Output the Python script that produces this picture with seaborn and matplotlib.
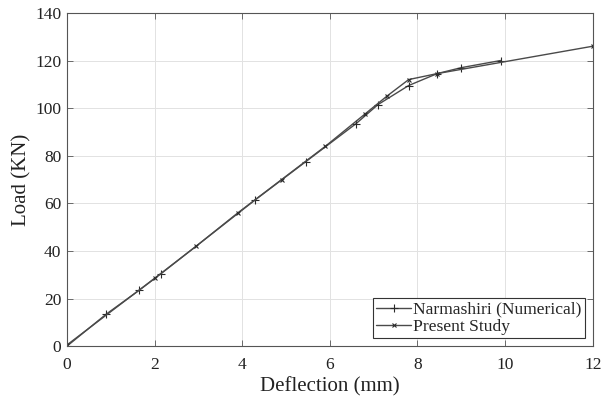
import matplotlib
matplotlib.use("Agg")
import matplotlib.pyplot as plt
import seaborn as sns
import pandas as pd

narm_x = [0.0, 0.9, 1.65, 2.15, 4.3, 5.45, 6.6, 7.1, 7.8, 8.45, 9.0, 9.9]
narm_y = [0.0, 13.5, 23.5, 30.5, 61.5, 77.5, 93.5, 101.5, 109.5, 114.5, 117.0, 120.0]
pres_x = [0.0, 2.0, 2.95, 3.9, 4.9, 5.9, 6.8, 7.3, 7.8, 8.45, 12.0]
pres_y = [0.5, 28.5, 42.0, 56.0, 70.0, 84.0, 97.5, 105.0, 112.0, 114.5, 126.0]
series_names = ["Narmashiri (Numerical)", "Present Study"]
x_ticks = [0, 2, 4, 6, 8, 10, 12]
y_ticks = [0, 20, 40, 60, 80, 100, 120, 140]

sns.set_theme(style="whitegrid")
plt.rcParams["font.family"] = ["Liberation Serif", "DejaVu Serif"]

fig = plt.figure(figsize=(6.03, 4.03), dpi=100)
ax = fig.add_axes([0.111, 0.141, 0.872, 0.827])

df1 = pd.DataFrame({"x": narm_x, "y": narm_y})
df2 = pd.DataFrame({"x": pres_x, "y": pres_y})
sns.lineplot(data=df1, x="x", y="y", ax=ax, color="#4a4a4a", lw=1.0, marker="+",
             markersize=5.5, markeredgecolor="#2a2a2a", markeredgewidth=0.8,
             label=series_names[0], sort=False)
sns.lineplot(data=df2, x="x", y="y", ax=ax, color="#4a4a4a", lw=1.0, marker="x",
             markersize=3.5, markeredgecolor="#2a2a2a", markeredgewidth=0.8,
             label=series_names[1], sort=False)

ax.set_xlim(0, 12)
ax.set_ylim(0, 140)
ax.set_xticks(x_ticks)
ax.set_yticks(y_ticks)
ax.set_xlabel("Deflection (mm)", fontsize=15, color="#222222", labelpad=3)
ax.set_ylabel("Load (KN)", fontsize=15, color="#222222", labelpad=3)
ax.tick_params(axis="x", pad=8)
ax.tick_params(axis="y", pad=4)
ax.tick_params(axis="both", which="both", direction="in", length=4, width=0.6,
               colors="#555555", labelcolor="#222222", labelsize=12.5,
               top=True, right=True, bottom=True, left=True)
ax.grid(True, color="#e2e2e2", lw=0.7)
for s in ax.spines.values():
    s.set_color("#555555")
    s.set_linewidth(0.8)
    s.set_visible(True)

leg = ax.legend(loc="lower right", fontsize=12.6, frameon=True, fancybox=False,
                edgecolor="#333333", framealpha=1, borderpad=0.2, labelspacing=0.05,
                handlelength=2.0, handletextpad=0.1, borderaxespad=0.45)
leg.get_frame().set_linewidth(0.8)

fig.savefig("out.png", dpi=100)
